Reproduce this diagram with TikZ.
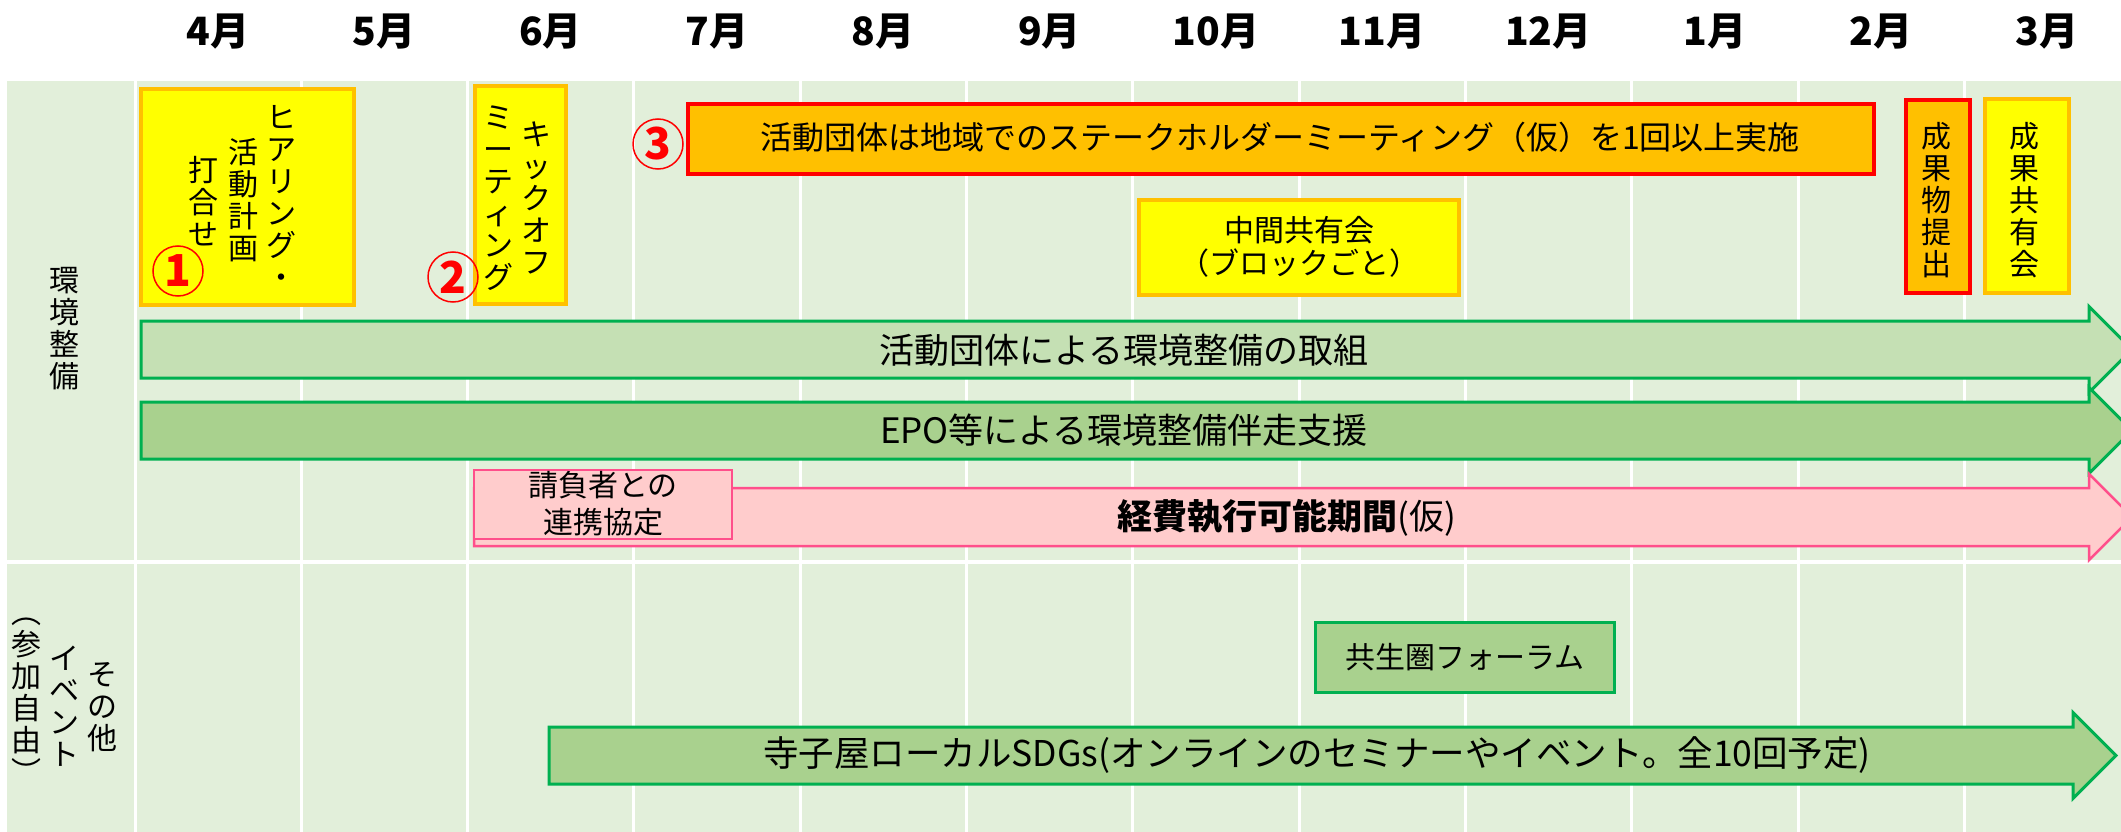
\documentclass[tikz,border=0pt]{standalone}
\usepackage{fontspec}
\setmainfont{Noto Sans CJK JP}
\definecolor{tblbg}{HTML}{E2EFDA}
\definecolor{yel}{HTML}{FFFF00}
\definecolor{yelbd}{HTML}{FFC000}
\definecolor{org}{HTML}{FFC000}
\definecolor{redbd}{HTML}{FF0000}
\definecolor{grnA}{HTML}{C5E0B4}
\definecolor{grnB}{HTML}{A9D18E}
\definecolor{grnbd}{HTML}{00B050}
\definecolor{pnk}{HTML}{FFCCCC}
\definecolor{pnkbd}{HTML}{FF4F8B}
\tikzset{
  month/.style={inner sep=0pt, font=\fontsize{39}{40}\selectfont\bfseries},
  vtxt/.style={align=center, inner sep=0pt, font=\fontsize{30}{32}\selectfont},
  htxt/.style={align=center, inner sep=0pt, font=\fontsize{30}{34}\selectfont},
  bigtxt/.style={inner sep=0pt, font=\fontsize{35}{40}\selectfont},
  boxbase/.style={rectangle, inner sep=0pt, outer sep=0pt},
  yelbox/.style={boxbase, fill=yel, draw=yelbd, line width=3.5pt},
  orgbox/.style={boxbase, fill=org, draw=redbd, line width=4pt},
  grnbox/.style={boxbase, fill=grnB, draw=grnbd, line width=3pt},
  pnkbox/.style={boxbase, fill=pnk, draw=pnkbd, line width=2.5pt},
  arrowA/.style={fill=grnA, draw=grnbd, line width=3pt},
  arrowB/.style={fill=grnB, draw=grnbd, line width=3pt},
  arrowP/.style={fill=pnk, draw=pnkbd, line width=2.5pt},
  circnum/.style={circle, draw=red, line width=1.5pt, minimum size=50pt, inner sep=0pt, text=red, font=\fontsize{44}{44}\selectfont\bfseries},
  sep/.style={white, line width=3pt},
}
\begin{document}
\begin{tikzpicture}[x=1pt,y=-1pt]
\useasboundingbox (0,0) rectangle (2121,832);
% table background
\fill[tblbg] (7,81) rectangle (2121,832);
\foreach \i in {0,...,11} {\draw[sep] ({135+\i*166.3},81) -- ({135+\i*166.3},832);}
\draw[white, line width=4pt] (7,562) -- (2121,562);
% month labels
\foreach \lab [count=\i from 0] in {4月,5月,6月,7月,8月,9月,10月,11月,12月,1月,2月,3月}
  {\node[month] (m\i) at ({218+\i*166.3},32) {\lab};}
% left labels
\node[vtxt] (lab1) at (64,329) {環\\境\\整\\備};
\node[vtxt] (lab2a) at (102,707) {そ\\の\\他};
\node[vtxt] (lab2b) at (64,706) {イ\\ベ\\ン\\ト};
\node[vtxt] (lab2c) at (26,701) {︵\\参\\加\\自\\由\\︶};
% long arrows
\draw[arrowA] (141,321) -- (2089,321) -- (2089,306.5) -- (2132,349.5) -- (2089,392.5) -- (2089,378) -- (141,378) -- cycle;
\node[bigtxt] (t1) at (1124,350) {活動団体による環境整備の取組};
\draw[arrowB] (141,402) -- (2089,402) -- (2089,387.5) -- (2132,430.5) -- (2089,473.5) -- (2089,459) -- (141,459) -- cycle;
\node[bigtxt] (t2) at (1124,430) {EPO等による環境整備伴走支援};
\draw[arrowP] (474,488) -- (2089,488) -- (2089,474) -- (2132,517) -- (2089,560) -- (2089,546) -- (474,546) -- cycle;
\node[bigtxt] (t3) at (1287,518) {\textbf{経費執行可能期間}(仮)};
\node[pnkbox, minimum width=258pt, minimum height=69pt] (pb) at (603,504.5) {};
\node[htxt, font=\fontsize{30}{37}\selectfont] (pbt) at (603,504) {請負者との\\連携協定};
% bottom arrow
\draw[arrowB] (549,727) -- (2073,727) -- (2073,712.5) -- (2116,755.5) -- (2073,798.5) -- (2073,784) -- (549,784) -- cycle;
\node[bigtxt, font=\fontsize{35.5}{40}\selectfont] (t4) at (1317,755) {寺子屋ローカルSDGs(オンラインのセミナーやイベント。全10回予定)};
% forum
\node[grnbox, minimum width=299pt, minimum height=70pt] (fb) at (1464.5,657) {};
\node[htxt] (fbt) at (1465,657) {共生圏フォーラム};
% box 1
\node[yelbox, minimum width=213pt, minimum height=216pt] (b1) at (247.5,197) {};
\node[vtxt] (b1a) at (281,197) {ヒ\\ア\\リ\\ン\\グ\\・};
\node[vtxt] (b1b) at (243,200) {活\\動\\計\\画};
\node[vtxt] (b1c) at (203,201) {打\\合\\せ};
% box 2
\node[yelbox, minimum width=91pt, minimum height=218pt] (b2) at (520.5,195) {};
\node[vtxt] (b2a) at (536,197.5) {キ\\ッ\\ク\\オ\\フ};
\node[vtxt] (b2b) at (498,198.5) {ミ\\ー\\テ\\ィ\\ン\\グ};
% box 3
\node[orgbox, minimum width=1186pt, minimum height=70pt] (b3) at (1281,139) {};
\node[htxt, font=\fontsize{32}{34}\selectfont] (b3t) at (1280,137) {活動団体は地域でのステークホルダーミーティング（仮）を1回以上実施};
% mid meeting
\node[yelbox, minimum width=320pt, minimum height=95pt] (bm) at (1299,247.5) {};
\node[htxt, font=\fontsize{30}{33}\selectfont] (bmt) at (1299,247) {中間共有会\\（ブロックごと）};
% results
\node[orgbox, minimum width=64pt, minimum height=193pt] (bs) at (1938,196.5) {};
\node[vtxt] (bst) at (1936,200) {成\\果\\物\\提\\出};
\node[yelbox, minimum width=84pt, minimum height=194pt] (bk) at (2027,196) {};
\node[vtxt] (bkt) at (2024,200) {成\\果\\共\\有\\会};
% circled numbers
\node[circnum] (n1) at (178,271) {1};
\node[circnum] (n2) at (453,277) {2};
\node[circnum] (n3) at (658,144) {3};
\end{tikzpicture}
\end{document}
